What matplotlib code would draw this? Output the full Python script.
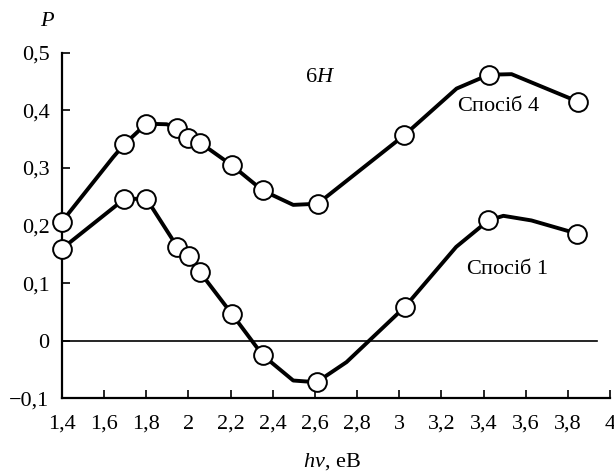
import matplotlib
matplotlib.use("Agg")
import matplotlib.pyplot as plt
import numpy as np

plt.rcParams['font.family'] = ['Liberation Serif', 'DejaVu Serif']
plt.rcParams['mathtext.fontset'] = 'custom'
plt.rcParams['mathtext.rm'] = 'Liberation Serif'
plt.rcParams['mathtext.it'] = 'Liberation Serif:italic'

# Спосіб 4: traced curve vertices; measured points are flagged with 1
sp4_x = [1.40, 1.643, 1.695, 1.80, 1.896, 1.947, 1.999, 2.055, 2.205, 2.352,
         2.497, 2.613, 3.024, 3.272, 3.425, 3.533, 3.85]
sp4_y = [0.207, 0.319, 0.341, 0.377, 0.376, 0.370, 0.352, 0.344, 0.305, 0.261,
         0.236, 0.238, 0.357, 0.438, 0.462, 0.463, 0.415]
sp4_meas = [1, 0, 1, 1, 0, 1, 1, 1, 1, 1, 0, 1, 1, 0, 1, 0, 1]

# Спосіб 1
sp1_x = [1.40, 1.695, 1.80, 1.947, 2.002, 2.055, 2.205, 2.352, 2.497, 2.608,
         2.75, 3.027, 3.27, 3.423, 3.494, 3.627, 3.845]
sp1_y = [0.160, 0.246, 0.247, 0.163, 0.147, 0.119, 0.047, -0.025, -0.069, -0.072,
         -0.037, 0.059, 0.163, 0.209, 0.217, 0.209, 0.186]
sp1_meas = [1, 1, 1, 1, 1, 1, 1, 1, 0, 1, 0, 1, 0, 1, 0, 0, 1]

x_ticks = [1.4, 1.6, 1.8, 2.0, 2.2, 2.4, 2.6, 2.8, 3.0, 3.2, 3.4, 3.6, 3.8, 4.0]
x_tick_labels = ["1,4", "1,6", "1,8", "2", "2,2", "2,4", "2,6", "2,8", "3",
                 "3,2", "3,4", "3,6", "3,8", "4"]
y_ticks = [-0.1, 0.0, 0.1, 0.2, 0.3, 0.4, 0.5]
y_tick_labels = ["\u22120,1", "0", "0,1", "0,2", "0,3", "0,4", "0,5"]

FS = 16

fig = plt.figure(figsize=(6.14, 4.72), dpi=100)
ax = fig.add_axes([0.101, 0.156, 0.8925, 0.732])
ax.set_xlim(1.4, 4.0)
ax.set_ylim(-0.1, 0.5)

# zero reference line
ax.plot([1.4, 3.94], [0, 0], color='black', lw=1.2, zorder=1)

for xs, ys, meas in [(sp4_x, sp4_y, sp4_meas), (sp1_x, sp1_y, sp1_meas)]:
    xs = np.array(xs)
    ys = np.array(ys)
    m = np.array(meas, dtype=bool)
    ax.plot(xs, ys, color='black', lw=2.8, solid_joinstyle='round', zorder=2)
    ax.plot(xs[m], ys[m], linestyle='none', marker='o', markersize=13.5,
            markerfacecolor='white', markeredgecolor='black',
            markeredgewidth=1.4, zorder=3, clip_on=False)

for side in ['top', 'right']:
    ax.spines[side].set_visible(False)
for side in ['left', 'bottom']:
    ax.spines[side].set_linewidth(1.6)

ax.set_xticks(x_ticks)
ax.set_xticklabels(x_tick_labels)
ax.set_yticks(y_ticks)
ax.set_yticklabels(y_tick_labels)
ax.tick_params(axis='both', direction='in', length=6, width=1.2,
               labelsize=FS)
ax.tick_params(axis='x', pad=12)
ax.tick_params(axis='y', pad=9)

ax.text(2.624, 0.457, "6$H$", fontsize=FS, ha='center', va='center')
ax.text(3.274, 0.407, "Спосіб $4$", fontsize=FS, ha='left', va='center')
ax.text(3.317, 0.124, "Спосіб $1$", fontsize=FS, ha='left', va='center')

fig.text(48 / 614, 1 - 22 / 472, "$P$", fontsize=FS, ha='center', va='center')
fig.text(332 / 614, 1 - 462 / 472, "$hv$, еВ", fontsize=FS,
         ha='center', va='center')

fig.savefig("out.png", dpi=100)
